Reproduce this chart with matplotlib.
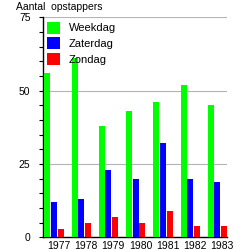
import matplotlib
matplotlib.use("Agg")
import matplotlib.pyplot as plt
import numpy as np
from matplotlib.ticker import MultipleLocator

years = ["1977", "1978", "1979", "1980", "1981", "1982", "1983"]
weekdag = [56, 61, 38, 43, 46, 52, 45]
zaterdag = [12, 13, 23, 20, 32, 20, 19]
zondag = [3, 5, 7, 5, 9, 4, 4]
series_names = ["Weekdag", "Zaterdag", "Zondag"]
colors = ["#00ff00", "#0000ff", "#ff0000"]

plt.rcParams['font.family'] = ['Liberation Sans', 'DejaVu Sans']

fig = plt.figure(figsize=(2.46, 2.5), dpi=100)
ax = fig.add_axes([43/246, 1-237.3/250, (227-43)/246, (237.3-17.3)/250])

x = np.arange(len(years))
offsets = [-0.235, 0.0, 0.25]
w = 0.22
for vals, off, c, name in zip([weekdag, zaterdag, zondag], offsets, colors, series_names):
    ax.bar(x + off, vals, width=w, color=c, label=name, zorder=3, linewidth=0)

ax.set_ylim(0, 75)
ax.set_xlim(-0.40, 6.36)
ax.yaxis.set_major_locator(MultipleLocator(25))
ax.yaxis.set_minor_locator(MultipleLocator(5))
ax.set_xticks(x + 0.18)
ax.set_xticklabels(years)
ax.tick_params(axis='x', length=0, pad=3, labelsize=7.5)
ax.tick_params(axis='y', which='both', length=3, width=0.8, direction='out', labelsize=7.5, pad=6)
ax.yaxis.grid(True, which='major', color='#b4b4b4', linewidth=0.8, zorder=0)
ax.set_axisbelow(True)
for s in ['top', 'right']:
    ax.spines[s].set_visible(False)
ax.spines['left'].set_linewidth(1.0)
ax.spines['bottom'].set_linewidth(1.0)

leg = ax.legend(loc='upper left', bbox_to_anchor=(3.7/184, 1 - 4.4/220), frameon=False,
                fontsize=8, handlelength=1.2, handleheight=1.3, labelspacing=0.32,
                handletextpad=0.8, borderpad=0, borderaxespad=0)

fig.text(16/246, 1 - 2/250, "Aantal  opstappers", fontsize=7.5, va='top', ha='left')

fig.savefig("out.png", dpi=100)
